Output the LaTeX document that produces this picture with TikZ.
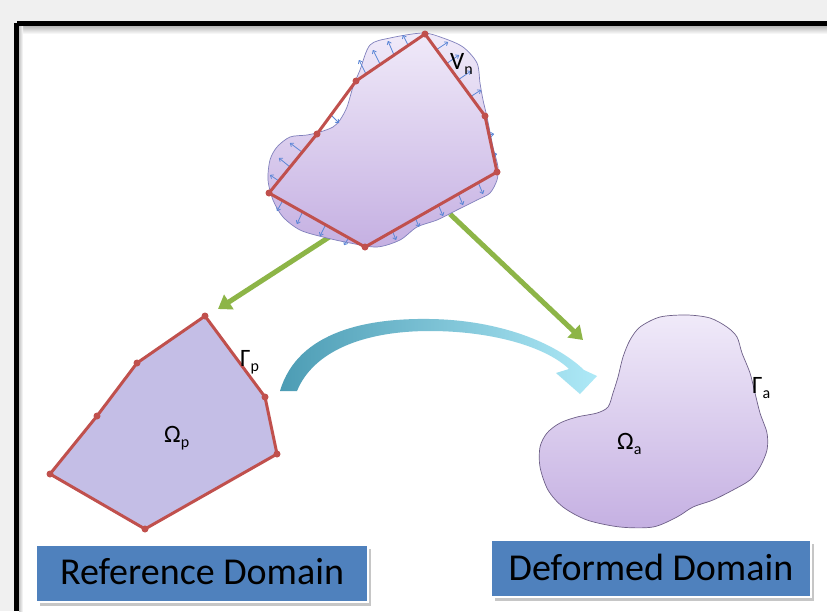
\documentclass[tikz,border=0pt]{standalone}
\usepackage{fontspec}
\setmainfont{Carlito}
\usetikzlibrary{arrows.meta}
\definecolor{bgc}{HTML}{F0F0F0}
\definecolor{redl}{HTML}{C0504D}
\definecolor{lav}{HTML}{C4BEE6}
\definecolor{blobtop}{HTML}{F0EAF9}
\definecolor{blobbot}{HTML}{C5B0E2}
\definecolor{blobedge}{HTML}{8080BC}
\definecolor{blobedgeb}{HTML}{6E6088}
\definecolor{grn}{HTML}{8DB547}
\definecolor{boxblue}{HTML}{4F81BD}
\definecolor{vblue}{HTML}{5B86D6}
\definecolor{cyl}{HTML}{AEE9F7}
\definecolor{cyd}{HTML}{4C9CB4}
\newcommand\lsub[1]{\raisebox{-5pt}{\fontsize{16}{18}\selectfont #1}}
\begin{document}
\begin{tikzpicture}[x=1pt,y=-1pt,
  redpoly/.style={draw=redl, line width=3pt, line join=round},
  vdot/.style={fill=redl},
  varrow/.style={draw=vblue, line width=0.8pt, -{To[length=3.5pt,width=5pt]}},
  grarrow/.style={draw=grn, line width=5pt, -{Triangle[length=13pt,width=17pt]}},
  lbl/.style={inner sep=0pt, anchor=base west, font=\fontsize{25}{29}\selectfont},
  boxlbl/.style={inner sep=0pt, anchor=base, font=\fontsize{38}{42}\selectfont, text=black}
]
% background and frame
\fill[bgc] (0,0) rectangle (827,611);
\useasboundingbox (0,0) rectangle (827,611);
\fill[white] (19,26) rectangle (827,611);
\shade[top color=gray!55, bottom color=white] (19,26) rectangle (827,34);
\shade[left color=gray!45, right color=white] (19,26) rectangle (23,611);
\fill[black] (17,21) rectangle (827,26);
\fill[black] (14,23) rectangle (19,611);

% green arrows (drawn under the top blob)
\coordinate (g1s) at (337,232);
\coordinate (g1e) at (218,309);
\coordinate (g2s) at (450,214);
\coordinate (g2e) at (583,340);
\draw[grarrow] (g1s) -- (g1e);
\draw[grarrow] (g2s) -- (g2e);

% top blob
\shadedraw[top color=blobtop, bottom color=blobbot, draw=blobedge, line width=0.7pt]
  plot[smooth cycle, tension=0.5] coordinates {(360,70) (370,45) (390,38) (423,33) (443,38) (463,47) (477,63) (480,83) (483,100) (487,117) (493,147) (498,167) (497,180) (490,193) (477,200) (457,210) (437,220) (417,227) (400,240) (377,247) (350,243) (323,237) (300,230) (283,217) (273,200) (268,180) (270,160) (277,147) (290,137) (307,135) (320,132) (333,127) (340,120) (347,107) (353,87)};

% normal velocity arrows
\foreach \xa/\ya/\xb/\yb in {366/74/359/60, 380/64/373/50, 394/55/388/41, 408/45/403/35,
                   436/50/448/42, 446/64/459/55, 458/80/471/71, 470/97/481/90,
                   488/135/494/134, 492/155/497/154,
                   478/182/483/194, 458/193/463/205, 438/204/443/216, 415/217/419/227, 392/230/396/240,
                   348/239/344/245, 325/226/320/236, 302/213/297/224, 282/202/277/211,
                   279/181/270/175, 290/167/279/158, 302/152/290/143,
                   331/115/339/123}
  \draw[varrow] (\xa,\ya) -- (\xb,\yb);

% top polygon
\coordinate (t1) at (425,34);
\coordinate (t2) at (485,116);
\coordinate (t3) at (497,172);
\coordinate (t4) at (365,247);
\coordinate (t5) at (269,193);
\coordinate (t6) at (317,134);
\coordinate (t7) at (356,81);
\draw[redpoly] (t1) -- (t2) -- (t3) -- (t4) -- (t5) -- (t6) -- (t7) -- cycle;
\foreach \p in {t1,t2,t3,t4,t5,t6,t7} \fill[vdot] (\p) circle (3.5pt);
\node[lbl] (vn) at (450,69) {V\lsub{n}};

% left (reference) polygon
\coordinate (p1) at (205,316);
\coordinate (p2) at (265,397);
\coordinate (p3) at (277,454);
\coordinate (p4) at (145,529);
\coordinate (p5) at (50,474);
\coordinate (p6) at (97,416);
\coordinate (p7) at (137,363);
\filldraw[fill=lav, redpoly] (p1) -- (p2) -- (p3) -- (p4) -- (p5) -- (p6) -- (p7) -- cycle;
\foreach \p in {p1,p2,p3,p4,p5,p6,p7} \fill[vdot] (\p) circle (3.5pt);
\node[lbl] (gp) at (240,366) {Γ\lsub{p}};
\node[lbl] (op) at (164,442) {Ω\lsub{p}};

% right (deformed) blob
\shadedraw[top color=blobtop, bottom color=blobbot, draw=blobedgeb, line width=0.7pt]
  plot[smooth cycle, tension=0.5] coordinates {(640,327) (660,317) (687,315) (710,318) (727,327) (737,337) (742,353) (750,373) (755,393) (760,413) (767,433) (767,450) (760,467) (750,480) (733,490) (713,500) (693,507) (677,517) (653,527) (620,527) (587,520) (563,507) (548,490) (540,467) (540,447) (547,433) (560,423) (577,417) (597,413) (608,407) (613,393) (618,377) (623,357) (630,340)};
\node[lbl] (ga) at (752,393) {Γ\lsub{a}};
\node[lbl] (oa) at (617,449) {Ω\lsub{a}};

% curved mapping arrow
\shade[left color=cyd, right color=cyl]
  (280,391) .. controls (298,330) and (370,318) .. (430,319)
  .. controls (500,320) and (556,343) .. (584,370)
  -- (597,376) -- (580,394) -- (556,373) -- (569,369)
  .. controls (545,346) and (490,331) .. (430,331)
  .. controls (362,331) and (313,352) .. (297,391) -- cycle;

% bottom label boxes
\fill[gray!45] (40,549) rectangle (371,606);
\filldraw[fill=boxblue, draw=white, line width=2.5pt] (36,545) rectangle (368,602);
\node[boxlbl] (rd) at (202,584) {Reference Domain};
\fill[gray!45] (495,544) rectangle (814,601);
\filldraw[fill=boxblue, draw=white, line width=2.5pt] (491,540) rectangle (811,597);
\node[boxlbl] (dd) at (651,580) {Deformed Domain};
\end{tikzpicture}
\end{document}
